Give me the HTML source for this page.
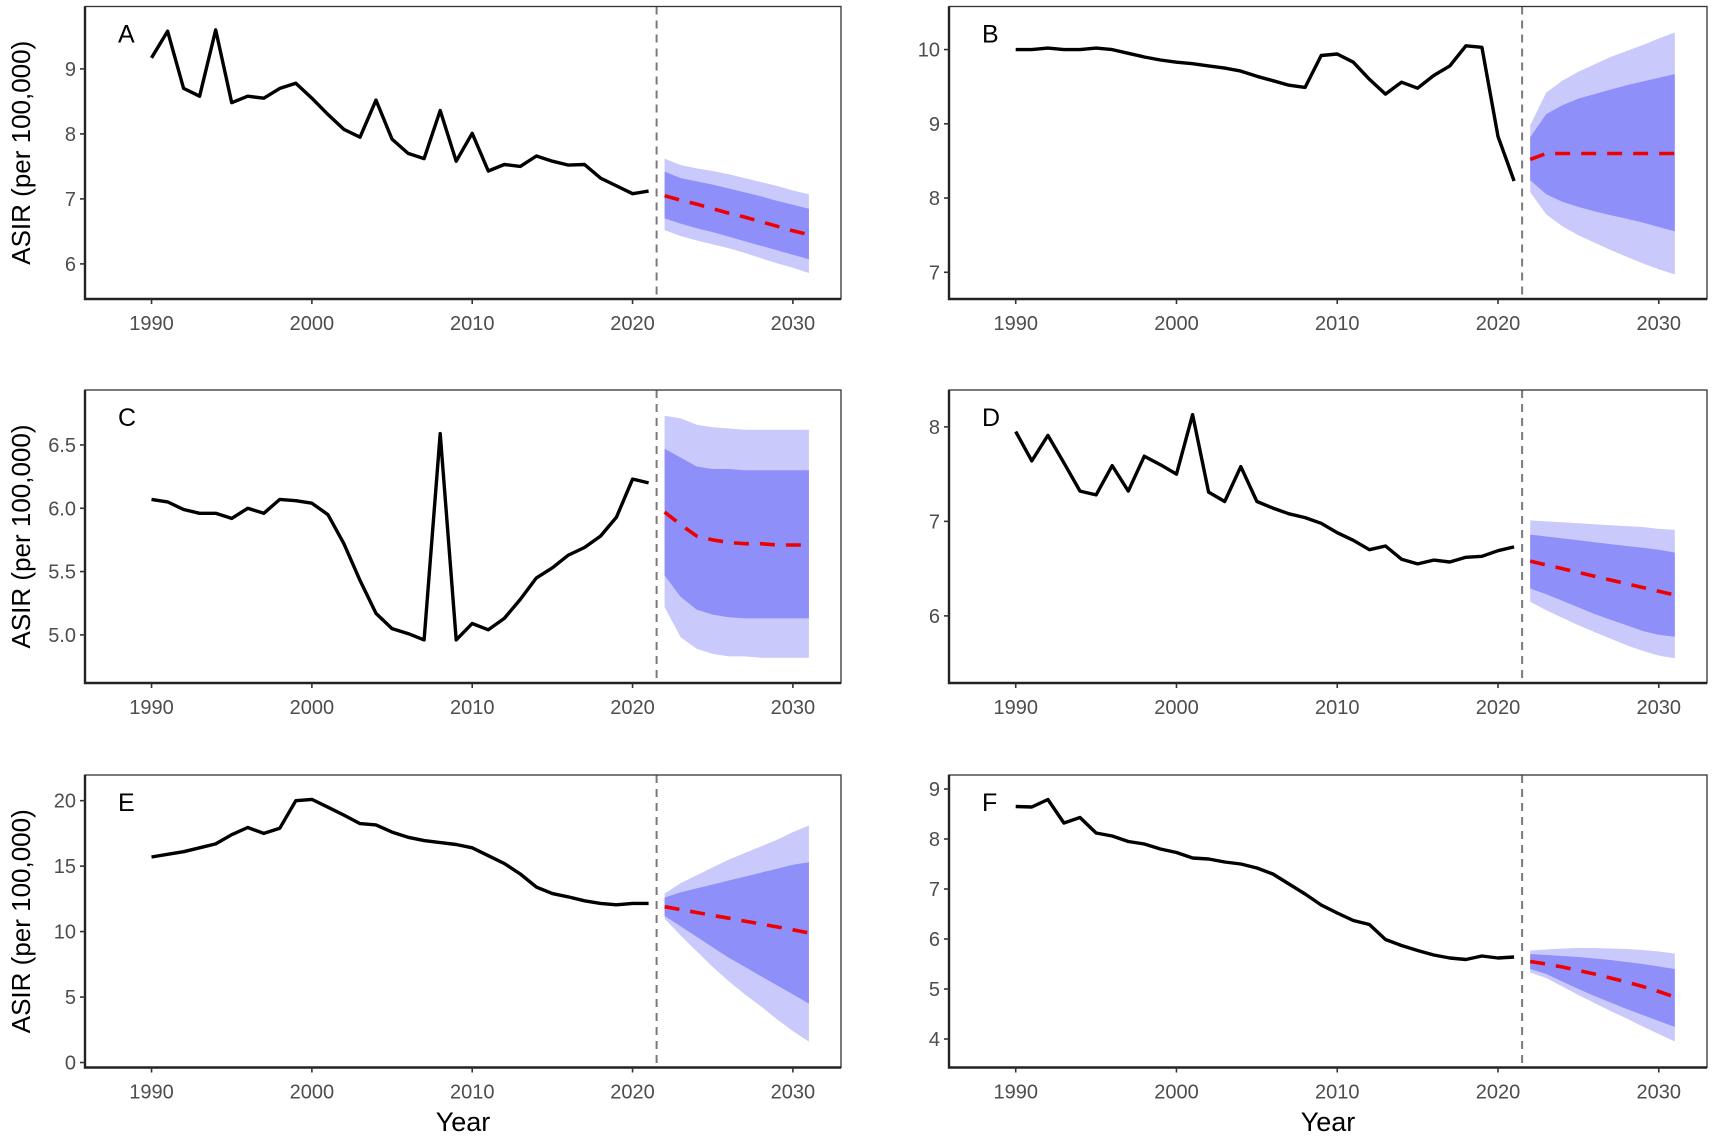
<!DOCTYPE html>
<html><head><meta charset="utf-8">
<style>
html,body{margin:0;padding:0;background:#fff;}
svg{display:block;font-family:"Liberation Sans",sans-serif;}
</style></head>
<body>
<svg id="chart" width="1713" height="1138" viewBox="0 0 1713 1138" xmlns="http://www.w3.org/2000/svg"></svg>
<script>
const histYears = [1990,1991,1992,1993,1994,1995,1996,1997,1998,1999,2000,2001,2002,2003,2004,2005,2006,2007,2008,2009,2010,2011,2012,2013,2014,2015,2016,2017,2018,2019,2020,2021];
const fcYears = [2022,2023,2024,2025,2026,2027,2028,2029,2030,2031];
const xTicks = [1990,2000,2010,2020,2030];

const histA = [9.17,9.58,8.70,8.58,9.60,8.48,8.58,8.55,8.70,8.78,8.55,8.30,8.07,7.95,8.52,7.92,7.70,7.62,8.36,7.58,8.01,7.43,7.53,7.50,7.66,7.58,7.52,7.53,7.32,7.20,7.08,7.12];
const meanA = [7.05,6.98,6.92,6.85,6.78,6.72,6.65,6.58,6.51,6.45];
const inHiA = [7.42,7.32,7.27,7.22,7.16,7.10,7.04,6.97,6.91,6.85];
const inLoA = [6.70,6.62,6.55,6.49,6.42,6.35,6.28,6.21,6.14,6.07];
const outHiA = [7.62,7.52,7.47,7.43,7.38,7.32,7.26,7.20,7.13,7.07];
const outLoA = [6.52,6.43,6.36,6.30,6.24,6.17,6.09,6.01,5.94,5.86];
const yTicksA = [6,7,8,9];

const histB = [10.0,10.0,10.02,10.0,10.0,10.02,10.0,9.95,9.90,9.86,9.83,9.81,9.78,9.75,9.71,9.64,9.58,9.52,9.49,9.92,9.94,9.83,9.60,9.40,9.56,9.48,9.65,9.78,10.05,10.03,8.83,8.23];
const meanB = [8.52,8.60,8.60,8.60,8.60,8.60,8.60,8.60,8.60,8.60];
const inHiB = [8.82,9.13,9.25,9.34,9.40,9.46,9.52,9.57,9.62,9.67];
const inLoB = [8.24,8.05,7.95,7.88,7.82,7.77,7.72,7.67,7.61,7.55];
const outHiB = [8.98,9.42,9.58,9.70,9.80,9.90,9.98,10.06,10.15,10.23];
const outLoB = [8.08,7.78,7.62,7.50,7.40,7.30,7.21,7.12,7.04,6.97];
const yTicksB = [7,8,9,10];

const histC = [6.07,6.05,5.99,5.96,5.96,5.92,6.00,5.96,6.07,6.06,6.04,5.95,5.72,5.43,5.17,5.05,5.01,4.96,6.59,4.96,5.09,5.04,5.13,5.28,5.45,5.53,5.63,5.69,5.78,5.93,6.23,6.20];
const meanC = [5.97,5.87,5.78,5.75,5.73,5.72,5.72,5.71,5.71,5.71];
const inHiC = [6.47,6.40,6.33,6.31,6.31,6.30,6.30,6.30,6.30,6.30];
const inLoC = [5.47,5.30,5.20,5.16,5.14,5.13,5.13,5.13,5.13,5.13];
const outHiC = [6.73,6.71,6.66,6.64,6.63,6.62,6.62,6.62,6.62,6.62];
const outLoC = [5.22,4.98,4.89,4.85,4.83,4.83,4.82,4.82,4.82,4.82];
const yTicksC = [5.0,5.5,6.0,6.5];

const histD = [7.95,7.64,7.91,7.62,7.32,7.28,7.59,7.32,7.69,7.60,7.50,8.13,7.31,7.21,7.58,7.21,7.14,7.08,7.04,6.98,6.88,6.80,6.70,6.74,6.60,6.55,6.59,6.57,6.62,6.63,6.69,6.73];
const meanD = [6.58,6.54,6.50,6.46,6.42,6.38,6.34,6.30,6.26,6.22];
const inHiD = [6.86,6.84,6.82,6.80,6.78,6.76,6.74,6.72,6.70,6.67];
const inLoD = [6.29,6.23,6.16,6.09,6.02,5.96,5.90,5.84,5.80,5.78];
const outHiD = [7.01,7.00,6.99,6.98,6.97,6.96,6.95,6.94,6.92,6.91];
const outLoD = [6.15,6.06,5.98,5.90,5.83,5.76,5.69,5.63,5.58,5.55];
const yTicksD = [6,7,8];

const histE = [15.7,15.9,16.1,16.4,16.7,17.4,17.95,17.5,17.9,20.0,20.1,19.5,18.9,18.25,18.15,17.6,17.2,16.95,16.8,16.65,16.4,15.8,15.2,14.4,13.4,12.9,12.65,12.35,12.15,12.05,12.15,12.15];
const meanE = [11.9,11.68,11.46,11.24,11.02,10.8,10.58,10.36,10.14,9.9];
const inHiE = [12.6,13.0,13.3,13.6,13.9,14.2,14.5,14.8,15.1,15.3];
const inLoE = [11.2,10.4,9.6,8.8,8.0,7.3,6.6,5.9,5.2,4.5];
const outHiE = [12.9,13.7,14.3,14.9,15.5,16.0,16.5,17.0,17.6,18.1];
const outLoE = [11.0,9.7,8.5,7.3,6.2,5.2,4.3,3.3,2.4,1.6];
const yTicksE = [0,5,10,15,20];

const histF = [8.65,8.64,8.79,8.32,8.43,8.12,8.06,7.95,7.90,7.80,7.73,7.62,7.60,7.54,7.50,7.42,7.30,7.10,6.90,6.68,6.52,6.37,6.29,5.99,5.87,5.77,5.68,5.62,5.59,5.66,5.62,5.64];
const meanF = [5.55,5.50,5.44,5.37,5.30,5.22,5.14,5.05,4.95,4.84];
const inHiF = [5.70,5.68,5.66,5.64,5.61,5.58,5.54,5.50,5.45,5.40];
const inLoF = [5.40,5.30,5.15,5.00,4.86,4.73,4.60,4.48,4.36,4.24];
const outHiF = [5.77,5.79,5.81,5.82,5.82,5.81,5.80,5.78,5.75,5.71];
const outLoF = [5.33,5.22,5.05,4.88,4.72,4.56,4.41,4.25,4.10,3.95];
const yTicksF = [4,5,6,7,8,9];

const NS = "http://www.w3.org/2000/svg";
const svg = document.getElementById("chart");
function mk(tag, attrs, parent){const e=document.createElementNS(NS,tag);for(const k in attrs)e.setAttribute(k,attrs[k]);(parent||svg).appendChild(e);return e;}

const X_MIN = 1985.85, X_MAX = 2033.0, CUT = 2021.5;
const panels = [
 {id:"a",label:"A",hist:histA,mean:meanA,inHi:inHiA,inLo:inLoA,outHi:outHiA,outLo:outLoA,ticks:yTicksA,ymin:5.46,ymax:9.96,left:85,right:841,top:6.5,bottom:299,fmt:0,ytitle:true},
 {id:"b",label:"B",hist:histB,mean:meanB,inHi:inHiB,inLo:inLoB,outHi:outHiB,outLo:outLoB,ticks:yTicksB,ymin:6.64,ymax:10.58,left:949,right:1707,top:6.5,bottom:299,fmt:0,ytitle:false},
 {id:"c",label:"C",hist:histC,mean:meanC,inHi:inHiC,inLo:inLoC,outHi:outHiC,outLo:outLoC,ticks:yTicksC,ymin:4.62,ymax:6.934,left:85,right:841,top:390,bottom:683,fmt:1,ytitle:true},
 {id:"d",label:"D",hist:histD,mean:meanD,inHi:inHiD,inLo:inLoD,outHi:outHiD,outLo:outLoD,ticks:yTicksD,ymin:5.29,ymax:8.39,left:949,right:1707,top:390,bottom:683,fmt:0,ytitle:false},
 {id:"e",label:"E",hist:histE,mean:meanE,inHi:inHiE,inLo:inLoE,outHi:outHiE,outLo:outLoE,ticks:yTicksE,ymin:-0.38,ymax:21.96,left:85,right:841,top:775,bottom:1067.5,fmt:0,ytitle:true,xtitle:true},
 {id:"f",label:"F",hist:histF,mean:meanF,inHi:inHiF,inLo:inLoF,outHi:outHiF,outLo:outLoF,ticks:yTicksF,ymin:3.43,ymax:9.28,left:949,right:1707,top:775,bottom:1067.5,fmt:0,ytitle:false,xtitle:true}
];

panels.forEach(p=>{
  const g = mk("g",{});
  
  
  const xs = v => p.left + (v - X_MIN)/(X_MAX - X_MIN)*(p.right - p.left);
  const ys = v => p.bottom - (v - p.ymin)/(p.ymax - p.ymin)*(p.bottom - p.top);

  // bands
  const band = (hi, lo, color, name)=>{
    let d = fcYears.map((yr,i)=>(i?"L":"M")+xs(yr).toFixed(1)+","+ys(hi[i]).toFixed(1)).join("");
    for(let i=fcYears.length-1;i>=0;i--) d += "L"+xs(fcYears[i]).toFixed(1)+","+ys(lo[i]).toFixed(1);
    const e = mk("path",{d:d+"Z",fill:color},g);
    
    
  };
  band(p.outHi,p.outLo,"#c9c9fb","outer-interval-band");
  band(p.inHi,p.inLo,"#8f8ff9","inner-interval-band");

  // cut line
  const cl = mk("line",{x1:xs(CUT),x2:xs(CUT),y1:p.top,y2:p.bottom,stroke:"#7a7a7a","stroke-width":2,"stroke-dasharray":"8 6"},g);
  
  

  // historical line
  const hd = histYears.map((yr,i)=>(i?"L":"M")+xs(yr).toFixed(1)+","+ys(p.hist[i]).toFixed(1)).join("");
  const hl = mk("path",{d:hd,fill:"none",stroke:"#000","stroke-width":3.4,"stroke-linejoin":"round"},g);
  
  

  // forecast mean
  const md = fcYears.map((yr,i)=>(i?"L":"M")+xs(yr).toFixed(1)+","+ys(p.mean[i]).toFixed(1)).join("");
  const ml = mk("path",{d:md,fill:"none",stroke:"#ee0000","stroke-width":3.6,"stroke-dasharray":"15 11"},g);
  
  

  // frame
  const fr = mk("rect",{x:p.left,y:p.top,width:p.right-p.left,height:p.bottom-p.top,fill:"none",stroke:"#333","stroke-width":1.3},g);
  
  
  mk("line",{x1:p.left,x2:p.left,y1:p.top,y2:p.bottom+1,stroke:"#222","stroke-width":2.4},g);
  mk("line",{x1:p.left-1,x2:p.right,y1:p.bottom,y2:p.bottom,stroke:"#222","stroke-width":2.4},g);

  // y ticks
  p.ticks.forEach(t=>{
    const y = ys(t);
    mk("line",{x1:p.left-5,x2:p.left,y1:y,y2:y,stroke:"#333","stroke-width":1.6},g);
    const tx = mk("text",{x:p.left-9,y:y+7,"text-anchor":"end","font-size":20,fill:"#4d4d4d"},g);
    tx.textContent = t.toFixed(p.fmt);
    
    
  });
  // x ticks
  xTicks.forEach(t=>{
    const x = xs(t);
    mk("line",{x1:x,x2:x,y1:p.bottom,y2:p.bottom+5,stroke:"#333","stroke-width":1.6},g);
    const tx = mk("text",{x:x,y:p.bottom+31,"text-anchor":"middle","font-size":20,fill:"#4d4d4d"},g);
    tx.textContent = String(t);
    
    
  });
  // panel letter
  const lt = mk("text",{x:p.left+33,y:p.top+36,"font-size":25,fill:"#000"},g);
  lt.textContent = p.label;
  
  

  if(p.ytitle){
    const cy = (p.top+p.bottom)/2;
    const yt = mk("text",{x:0,y:0,transform:"translate(30,"+cy+") rotate(-90)","text-anchor":"middle","font-size":26,fill:"#000"},g);
    yt.textContent = "ASIR (per 100,000)";
    
    
  }
  if(p.xtitle){
    const xt = mk("text",{x:(p.left+p.right)/2,y:1131,"text-anchor":"middle","font-size":27,fill:"#000"},g);
    xt.textContent = "Year";
    
    
  }
});
</script>
</body></html>
